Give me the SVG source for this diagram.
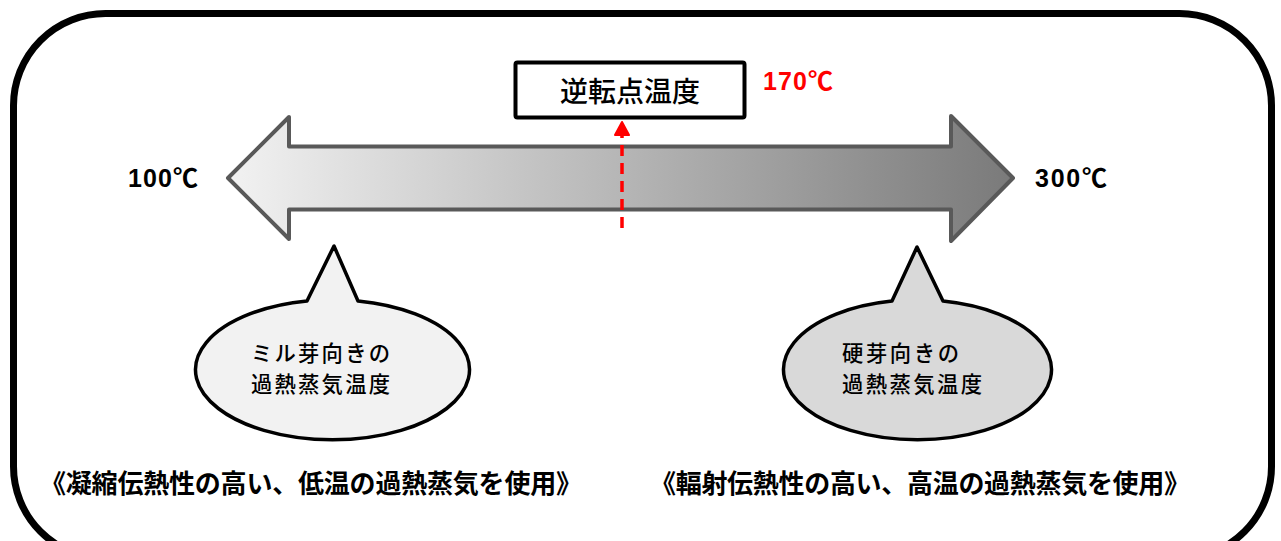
<svg xmlns="http://www.w3.org/2000/svg" width="1281" height="541" viewBox="0 0 1281 541">
<style>
.lbl{font-family:"Liberation Sans","Noto Sans CJK JP",sans-serif;font-weight:bold;font-size:25px}
.jp{font-family:"Noto Sans CJK JP",sans-serif}
.bt{font-family:"Noto Sans CJK JP",sans-serif;font-size:21.3px;font-weight:500}
.bub{stroke:#000;stroke-width:3.5;stroke-linejoin:round}
</style>
<defs>
<linearGradient id="g" x1="228" y1="0" x2="1013" y2="0" gradientUnits="userSpaceOnUse">
<stop offset="0" stop-color="#f2f2f2"/>
<stop offset="1" stop-color="#7a7a7a"/>
</linearGradient>
</defs>
<rect x="13.5" y="13.5" width="1258" height="545" rx="92" ry="92" fill="#fff" stroke="#000" stroke-width="7"/>
<g id="scale">
<path d="M228,178 L289,117 L289,146.5 L951,146.5 L951,116 L1013,178 L951,241 L951,209.5 L289,209.5 L289,239 Z" fill="url(#g)" stroke="#595959" stroke-width="4" stroke-linejoin="round"/>
<text class="lbl" x="128" y="187" textLength="70">100℃</text>
<text class="lbl" x="1035" y="187" textLength="72">300℃</text>
</g>
<g id="inversion">
<rect x="515.5" y="62.5" width="229" height="55" rx="2" fill="#fff" stroke="#000" stroke-width="4"/>
<text class="jp" x="630" y="102" font-size="28" font-weight="500" text-anchor="middle">逆転点温度</text>
<text class="lbl" x="763" y="90" fill="#ff0000" textLength="70">170℃</text>
</g>
<g id="connectors">
<line x1="622" y1="228" x2="622" y2="134" stroke="#ff0000" stroke-width="3.5" stroke-dasharray="11,7"/>
<path d="M615,135 L622,122 L629,135 Z" fill="#ff0000" stroke="#ff0000" stroke-width="2" stroke-linejoin="round"/>
</g>
<g id="bubble-left">
<path class="bub" fill="#f2f2f2" d="M307,301 A137,70 0 1 0 358,301 L334,246 Z"/>
<text class="bt" x="251" y="361" textLength="139">ミル芽向きの</text>
<text class="bt" x="251" y="392" textLength="139">過熱蒸気温度</text>
</g>
<g id="bubble-right">
<path class="bub" fill="#d9d9d9" d="M892,301 A134,70 0 1 0 943,301 L917,247 Z"/>
<text class="bt" x="842" y="361" textLength="117">硬芽向きの</text>
<text class="bt" x="842" y="392" textLength="140">過熱蒸気温度</text>
</g>
<g id="notes">
<text class="jp" x="40" y="493" font-size="26" font-weight="bold" textLength="542">《凝縮伝熱性の高い、低温の過熱蒸気を使用》</text>
<text class="jp" x="650" y="493" font-size="26" font-weight="bold" textLength="540">《輻射伝熱性の高い、高温の過熱蒸気を使用》</text>
</g>
</svg>
